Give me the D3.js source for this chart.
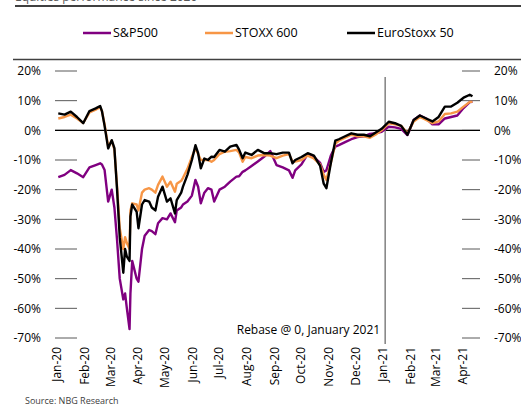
<!DOCTYPE html>
<html>
<head>
<meta charset="utf-8">
<script src="https://cdn.jsdelivr.net/npm/d3@7"></script>
<style>
  body { margin: 0; background: #fff; }
  svg { display: block; font-family: "Open Sans", sans-serif; }
</style>
</head>
<body>
<div id="chart"></div>
<script>
// dates shared by the three series (rebased to 0 in January 2021)
const dates = [
  "2020-01-03", "2020-01-10", "2020-01-17", "2020-01-24", "2020-01-31",
  "2020-02-07", "2020-02-14", "2020-02-19", "2020-02-21", "2020-02-24", "2020-02-28",
  "2020-03-03", "2020-03-06", "2020-03-09", "2020-03-12", "2020-03-16", "2020-03-18",
  "2020-03-20", "2020-03-23", "2020-03-24", "2020-03-26", "2020-03-31",
  "2020-04-02", "2020-04-06", "2020-04-09", "2020-04-14", "2020-04-17", "2020-04-21",
  "2020-04-24", "2020-04-29",
  "2020-05-04", "2020-05-08", "2020-05-13", "2020-05-15", "2020-05-20", "2020-05-22", "2020-05-27",
  "2020-06-01", "2020-06-05", "2020-06-08", "2020-06-11", "2020-06-15", "2020-06-19",
  "2020-06-23", "2020-06-26",
  "2020-07-02", "2020-07-08", "2020-07-14", "2020-07-21", "2020-07-24", "2020-07-28", "2020-07-31",
  "2020-08-07", "2020-08-14", "2020-08-21", "2020-08-28",
  "2020-09-04", "2020-09-11", "2020-09-18", "2020-09-22", "2020-09-25",
  "2020-10-02", "2020-10-09", "2020-10-16", "2020-10-23", "2020-10-27", "2020-10-30",
  "2020-11-04", "2020-11-09", "2020-11-13", "2020-11-20", "2020-11-27",
  "2020-12-04", "2020-12-11", "2020-12-18", "2020-12-24", "2020-12-31",
  "2021-01-08", "2021-01-15", "2021-01-22", "2021-01-29",
  "2021-02-05", "2021-02-12", "2021-02-19", "2021-02-26",
  "2021-03-05", "2021-03-12", "2021-03-19", "2021-03-26",
  "2021-04-02", "2021-04-09", "2021-04-12"
];

const sp500 = [
  -15.8, -15, -13.4, -14.5, -15.8,
  -12.5, -11.7, -11.1, -11.5, -13.4, -24,
  -20, -26, -37, -50, -57, -55, -60, -67, -55, -44, -50,
  -51, -40, -35.5, -33.6, -34, -35, -31.3, -29.6,
  -30, -28, -31, -27, -26, -25, -24,
  -22, -16.7, -19, -24.6, -21, -19.5, -20, -24,
  -20, -19, -17.3, -15.6, -15.5, -14, -13.5,
  -12, -10.5, -8.9, -7,
  -11.7, -12.5, -13.5, -16, -13.5,
  -11.5, -8, -9, -11, -14, -13.5,
  -8.5, -5.5, -5, -4, -3,
  -2.3, -2, -1.2, -1.0, -0.5,
  1.2, 1.0, 0.5, -1.6,
  3.5, 5, 4, 2,
  2, 4, 4.5, 5,
  7.5, 9.5, 9.6
];

const stoxx600 = [
  4.0, 4.5, 5.3, 4.0, 2.5,
  6.0, 7.0, 7.8, 6.5, 2, -5.5,
  -3.5, -6.5, -19, -33, -40, -36, -38, -40, -27, -24.6, -25,
  -27, -21, -20, -19.5, -20, -21, -18.4, -15.6,
  -19, -17.3, -20.7, -18, -17, -16, -13,
  -9, -6, -8, -10, -10, -10, -10.6, -10,
  -8, -7.2, -7, -6.6, -7.5, -10.6, -9,
  -9.4, -8.5, -8.3, -8.5,
  -9.4, -8.5, -8, -10.5, -10.5,
  -10, -8.5, -9.5, -11.5, -15, -16.7,
  -11, -4.5, -3.5, -2.5, -1.5,
  -2, -2, -2.5, -1.5, 0,
  2.4, 2.0, 1.5, -1,
  3, 4.5, 3.5, 2.4,
  3, 5.5, 5.7, 6.3,
  8, 9.6, 9.6
];

const eurostoxx50 = [
  5.7, 5.3, 6.3, 4.5, 2.4,
  6.5, 7.4, 8.2, 6.5, 1.5, -6.1,
  -3.3, -6, -20, -36, -48, -40, -42.6, -44, -29, -25, -27.5,
  -33, -25, -23.5, -24, -26, -27, -22.4, -19,
  -24, -22.9, -28, -23.5, -21, -19, -15,
  -10, -5, -7.7, -12.8, -9.5, -10, -8.9, -9,
  -6.6, -7.2, -5.5, -4.9, -6.5, -9.4, -7.5,
  -8.3, -6.6, -7.7, -7.7,
  -8, -7.5, -7.5, -11.1, -10,
  -9, -7.7, -8.5, -12, -18, -19.5,
  -11, -3.5, -3, -2, -1,
  -1.5, -1.5, -2, -0.8, 0.5,
  2.9, 2.4, 1.5, -1.5,
  3.5, 5, 4, 3,
  4.5, 8, 8, 9.3,
  11, 12, 11.5
];

const seriesNames = ["S&P500", "STOXX 600", "EuroStoxx 50"];
const seriesColors = ["#800080", "#F79646", "#000000"];
const yTicks = [20, 10, 0, -10, -20, -30, -40, -50, -60, -70];
const rebaseDate = "2021-01-04";
const rebaseLabel = "Rebase @ 0, January 2021";
const titleText = "Equities performance since 2020";
const sourceText = "Source: NBG Research";

const width = 521, height = 408;
const parse = d3.timeParse("%Y-%m-%d");

const svg = d3.select("#chart").append("svg")
  .attr("width", width)
  .attr("height", height);

// scales
const x = d3.scaleTime()
  .domain([parse("2020-01-01"), parse("2021-01-01")])
  .range([56.5, 382.5]);
const y = d3.scaleLinear()
  .domain([-70, 20])
  .range([338, 71]);

const plotLeft = 55, plotRight = 480;

// header: title (cut off at the top as in the source), rule, legend, rule
svg.append("text")
  .attr("x", 15).attr("y", 1)
  .attr("font-size", 12).attr("fill", "#595959")
  .text(titleText);
svg.append("line")
  .attr("x1", 15).attr("x2", width).attr("y1", 6).attr("y2", 6)
  .attr("stroke", "#000").attr("stroke-width", 1.5);
svg.append("line")
  .attr("x1", 13).attr("x2", width).attr("y1", 59.5).attr("y2", 59.5)
  .attr("stroke", "#404040").attr("stroke-width", 1.5);

const legendX = [83, 205, 347];
const legend = svg.append("g").selectAll("g")
  .data(seriesNames)
  .join("g")
  .attr("transform", (d, i) => `translate(${legendX[i]},33)`);
legend.append("line")
  .attr("x1", 0).attr("x2", 28)
  .attr("stroke", (d, i) => seriesColors[i])
  .attr("stroke-width", 2.5);
legend.append("text")
  .attr("x", 30).attr("dy", "0.35em")
  .attr("font-size", 12.5).attr("fill", "#000")
  .text(d => d);

// y tick dashes and labels on both sides
const yAxisG = svg.append("g");
yAxisG.selectAll("line.l")
  .data(yTicks).join("line").attr("class", "l")
  .attr("x1", plotLeft).attr("x2", 77)
  .attr("y1", d => y(d)).attr("y2", d => y(d))
  .attr("stroke", "#595959").attr("stroke-width", 1);
yAxisG.selectAll("line.r")
  .data(yTicks).join("line").attr("class", "r")
  .attr("x1", 462).attr("x2", plotRight)
  .attr("y1", d => y(d)).attr("y2", d => y(d))
  .attr("stroke", "#595959").attr("stroke-width", 1);
yAxisG.selectAll("text.l")
  .data(yTicks).join("text").attr("class", "l")
  .attr("x", 41).attr("y", d => y(d)).attr("dy", "0.35em")
  .attr("text-anchor", "end").attr("font-size", 12)
  .text(d => d + "%");
yAxisG.selectAll("text.r")
  .data(yTicks).join("text").attr("class", "r")
  .attr("x", 494).attr("y", d => y(d)).attr("dy", "0.35em")
  .attr("text-anchor", "start").attr("font-size", 12)
  .text(d => d + "%");

// zero line
svg.append("line")
  .attr("x1", plotLeft).attr("x2", plotRight)
  .attr("y1", y(0)).attr("y2", y(0))
  .attr("stroke", "#000").attr("stroke-width", 1.25);

// rebase marker
svg.append("line")
  .attr("x1", x(parse(rebaseDate))).attr("x2", x(parse(rebaseDate)))
  .attr("y1", 77).attr("y2", 344)
  .attr("stroke", "#808080").attr("stroke-width", 1.5);
svg.append("text")
  .attr("x", x(parse(rebaseDate)) - 5).attr("y", 330)
  .attr("dy", "0.35em")
  .attr("text-anchor", "end").attr("font-size", 12)
  .text(rebaseLabel);

// x axis month labels, rotated
const months = d3.timeMonth.range(parse("2020-01-01"), parse("2021-04-02"));
const fmt = d3.timeFormat("%b-%y");
const xAxis = d3.axisBottom(x)
  .tickValues(months)
  .tickFormat(fmt)
  .tickSize(0);
const xg = svg.append("g")
  .attr("transform", "translate(0,347)")
  .call(xAxis);
xg.select(".domain").remove();
xg.selectAll("text")
  .attr("font-family", "Open Sans, sans-serif")
  .attr("font-size", 12)
  .attr("fill", "#000")
  .attr("text-anchor", "end")
  .attr("transform", "rotate(-90)")
  .attr("x", 0).attr("y", 0)
  .attr("dy", "0.35em");

// series lines
const allSeries = [sp500, stoxx600, eurostoxx50].map((vals, i) => ({
  name: seriesNames[i],
  color: seriesColors[i],
  values: vals.map((v, j) => ({ date: parse(dates[j]), value: v }))
}));

const line = d3.line()
  .x(d => x(d.date))
  .y(d => y(d.value));

svg.append("g").selectAll("path")
  .data(allSeries)
  .join("path")
  .attr("fill", "none")
  .attr("stroke", d => d.color)
  .attr("stroke-width", 2.4)
  .attr("stroke-linejoin", "round")
  .attr("d", d => line(d.values));

// source
svg.append("text")
  .attr("x", 25).attr("y", 401)
  .attr("dy", "0.35em")
  .attr("font-size", 9).attr("fill", "#404040")
  .text(sourceText);
</script>
</body>
</html>
